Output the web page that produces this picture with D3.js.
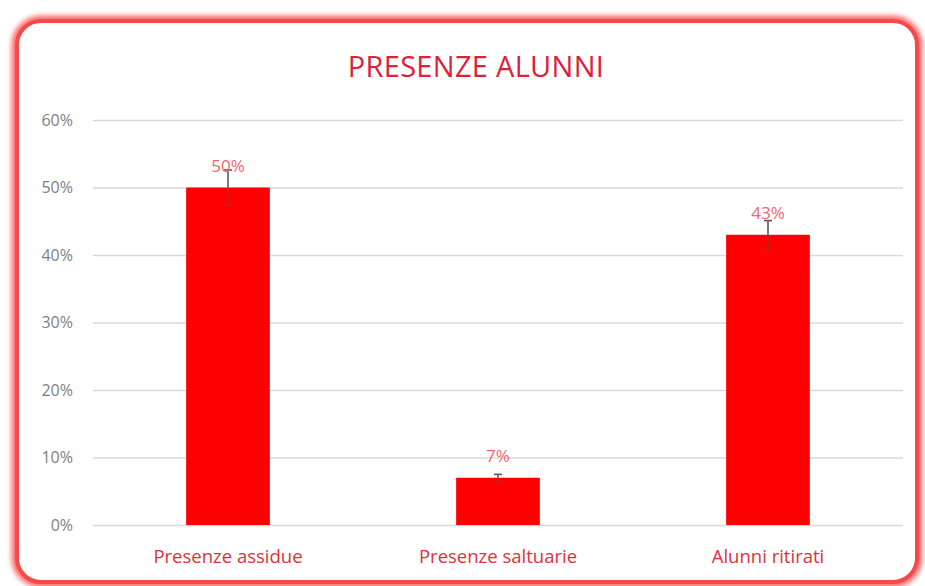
<!DOCTYPE html>
<html>
<head>
<meta charset="utf-8">
<script src="https://cdn.jsdelivr.net/npm/d3@7"></script>
<style>
  body { margin: 0; background: #fff; }
  text { font-family: "Open Sans", sans-serif; }
</style>
</head>
<body>
<div id="chart"></div>
<script>
var categories = ["Presenze assidue", "Presenze saltuarie", "Alunni ritirati"];
var values = [0.50, 0.07, 0.43];
var errors = [0.026, 0.005, 0.021];
var yTicks = [0, 0.1, 0.2, 0.3, 0.4, 0.5, 0.6];

var W = 925, H = 586;
var margin = {top: 120, right: 22, bottom: 61, left: 93},
    width = W - margin.left - margin.right,
    height = H - margin.top - margin.bottom;

var root = d3.select("#chart").append("svg")
    .attr("width", W)
    .attr("height", H);

var defs = root.append("defs");
var glow = defs.append("filter").attr("id", "glow")
    .attr("x", "-5%").attr("y", "-5%").attr("width", "110%").attr("height", "110%");
glow.append("feGaussianBlur").attr("stdDeviation", 2.5);

// outer frame
root.append("rect")
    .attr("x", 17).attr("y", 21).attr("width", 900).attr("height", 561)
    .attr("rx", 24)
    .attr("fill", "none")
    .attr("stroke", "#ff6a6a")
    .attr("stroke-width", 11)
    .attr("filter", "url(#glow)");
root.append("rect")
    .attr("x", 17).attr("y", 21).attr("width", 900).attr("height", 561)
    .attr("rx", 24)
    .attr("fill", "#fff")
    .attr("stroke", "#f44a4a")
    .attr("stroke-width", 4);

// title
root.append("text")
    .attr("x", 476)
    .attr("y", 77)
    .attr("text-anchor", "middle")
    .style("font-size", "29px")
    .style("letter-spacing", "0.3px")
    .style("fill", "#dc2238")
    .text("PRESENZE ALUNNI");

var svg = root.append("g")
    .attr("transform", "translate(" + margin.left + "," + margin.top + ")");

var x = d3.scaleBand()
    .domain(categories)
    .range([0, width])
    .paddingInner(0.69)
    .paddingOuter(0.345);

var y = d3.scaleLinear()
    .domain([0, 0.6])
    .range([height, 0]);

// grid lines
svg.append("g")
    .call(d3.axisLeft(y).tickValues(yTicks).tickSize(-width).tickFormat(""))
    .call(function(g) { g.select(".domain").remove(); })
    .call(function(g) { g.selectAll("line").attr("stroke", "#d9d9d9").attr("stroke-width", 1.4); });

// y axis labels
svg.append("g")
    .call(d3.axisLeft(y).tickValues(yTicks).tickSize(0).tickPadding(20).tickFormat(d3.format(".0%")))
    .call(function(g) { g.select(".domain").remove(); })
    .call(function(g) {
      g.selectAll("text").style("font-size", "16px").style("fill", "#7f7f7f")
        .style("font-family", "'Open Sans', sans-serif");
    });

// bars
svg.selectAll(".bar")
    .data(values)
    .enter()
    .append("rect")
      .attr("class", "bar")
      .attr("x", function(d, i) { return x(categories[i]); })
      .attr("width", x.bandwidth())
      .attr("y", function(d) { return y(d); })
      .attr("height", function(d) { return height - y(d); })
      .attr("fill", "#ff0000");

// error bars
var cx = function(i) { return x(categories[i]) + x.bandwidth() / 2; };
var eb = svg.selectAll(".err")
    .data(values)
    .enter()
    .append("g")
      .attr("class", "err")
      .attr("stroke", "#595959")
      .attr("stroke-width", 1.6);
eb.append("line")
    .attr("x1", function(d, i) { return cx(i); })
    .attr("x2", function(d, i) { return cx(i); })
    .attr("y1", function(d) { return y(d); })
    .attr("y2", function(d, i) { return y(d + errors[i]); });
eb.append("line")
    .attr("x1", function(d, i) { return cx(i) - 4; })
    .attr("x2", function(d, i) { return cx(i) + 4; })
    .attr("y1", function(d, i) { return y(d + errors[i]); })
    .attr("y2", function(d, i) { return y(d + errors[i]); });
// lower half sits inside the bar, looks faint there
var ebLow = eb.append("g").attr("stroke-opacity", 0.35);
ebLow.append("line")
    .attr("x1", function(d, i) { return cx(i); })
    .attr("x2", function(d, i) { return cx(i); })
    .attr("y1", function(d) { return y(d); })
    .attr("y2", function(d, i) { return y(d - errors[i]); });
ebLow.append("line")
    .attr("x1", function(d, i) { return cx(i) - 4; })
    .attr("x2", function(d, i) { return cx(i) + 4; })
    .attr("y1", function(d, i) { return y(d - errors[i]); })
    .attr("y2", function(d, i) { return y(d - errors[i]); });

// data labels
svg.selectAll(".lbl")
    .data(values)
    .enter()
    .append("text")
      .attr("class", "lbl")
      .attr("x", function(d, i) { return cx(i); })
      .attr("y", function(d) { return y(d) - 16; })
      .attr("text-anchor", "middle")
      .style("font-size", "17px")
      .style("fill", "#f2666f")
      .text(d3.format(".0%"));

// category labels
svg.selectAll(".cat")
    .data(categories)
    .enter()
    .append("text")
      .attr("class", "cat")
      .attr("x", function(d) { return x(d) + x.bandwidth() / 2; })
      .attr("y", height + 38)
      .attr("text-anchor", "middle")
      .style("font-size", "18.5px")
      .style("fill", "#e0303e")
      .text(function(d) { return d; });
</script>
</body>
</html>
